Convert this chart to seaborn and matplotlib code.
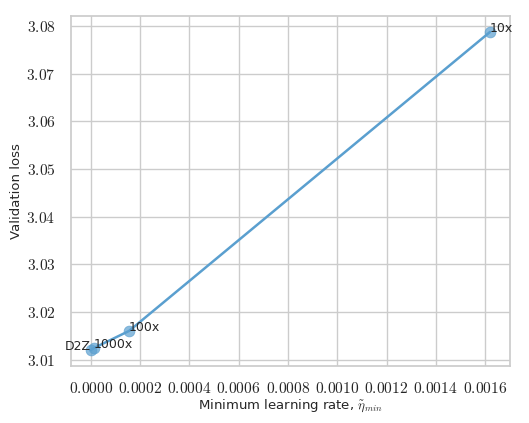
import matplotlib
matplotlib.use('Agg')
import matplotlib.pyplot as plt
import seaborn as sns
import pandas as pd
from matplotlib.ticker import FuncFormatter

# data
labels = ['D2Z', '1000x', '100x', '10x']
min_lr = [0.0, 0.000012, 0.000155, 0.00162]
val_loss = [3.0120, 3.0124, 3.0160, 3.0788]

sns.set_theme(style='whitegrid')
plt.rcParams['mathtext.fontset'] = 'cm'
plt.rcParams['font.family'] = ['DejaVu Sans']

df = pd.DataFrame({'lr': min_lr, 'loss': val_loss, 'label': labels})

fig, ax = plt.subplots(figsize=(5.29, 4.23), dpi=100)
color = '#5a9fcf'
sns.lineplot(data=df, x='lr', y='loss', color=color, linewidth=1.8, ax=ax)
sns.scatterplot(data=df, x='lr', y='loss', color=color, s=60, alpha=0.7,
                edgecolor=color, ax=ax, zorder=3)

for _, r in df.iterrows():
    ha = 'right' if r['label'] == 'D2Z' else 'left'
    ax.text(r['lr'], r['loss'], r['label'], ha=ha, va='baseline', fontsize=9)

ax.xaxis.set_major_formatter(FuncFormatter(lambda v, p: r'$%.4f$' % v))
ax.yaxis.set_major_formatter(FuncFormatter(lambda v, p: r'$%.2f$' % v))
ax.tick_params(labelsize=11.2, pad=5)
ax.set_xlabel(r'Minimum learning rate, $\tilde{\eta}_{min}$', fontsize=9.5, labelpad=1)
ax.set_ylabel('Validation loss', fontsize=9.5, labelpad=2)

fig.subplots_adjust(left=0.134, right=0.964, top=0.962, bottom=0.135)
plt.savefig('out.png')
